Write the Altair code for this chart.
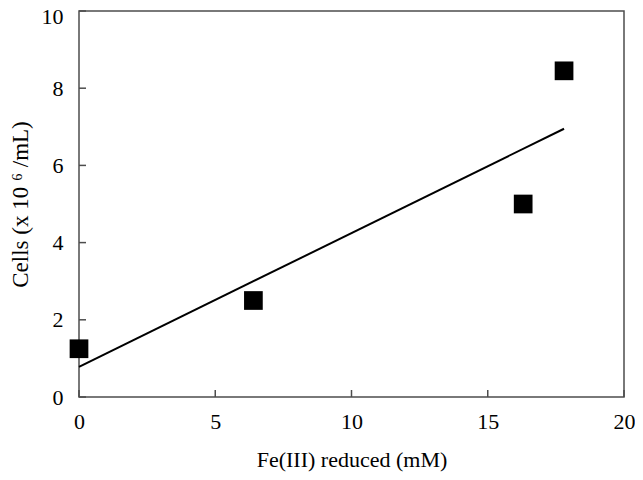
import altair as alt
import pandas as pd

# data
fe_reduced = [0.0, 6.4, 16.3, 17.8]
cells = [1.25, 2.5, 5.0, 8.45]
fit_x = [0.0, 17.8]
fit_y = [0.78, 6.95]
x_ticks = [0, 5, 10, 15, 20]
y_ticks = [0, 2, 4, 6, 8, 10]

W, H = 545, 386
FONT = "Liberation Serif"

pts = pd.DataFrame({"x": fe_reduced, "y": cells})
fit = pd.DataFrame({"x": fit_x, "y": fit_y})
xt = pd.DataFrame({"v": x_ticks})
yt = pd.DataFrame({"v": y_ticks})

xscale = alt.Scale(domain=[0, 20], nice=False, zero=False)
yscale = alt.Scale(domain=[0, 10], nice=False, zero=False)

xaxis = alt.Axis(
    values=x_ticks, title="Fe(III) reduced (mM)", grid=False, domain=False,
    tickSize=0, labelPadding=14, labelFontSize=22, labelFont=FONT, labelColor="black",
    titleFont=FONT, titleFontSize=22, titleFontWeight="normal", titleColor="black",
    titleY=69, titleBaseline="alphabetic", labelFlush=False,
)
yaxis = alt.Axis(
    values=y_ticks, title="Cells (x 10 \u2076 /mL)", grid=False, domain=False,
    tickSize=0, labelPadding=16, labelFontSize=22, labelFont=FONT, labelColor="black",
    labelOffset=alt.condition("datum.value == 10", alt.value(5), alt.value(0)),
    titleFont=FONT, titleFontSize=23, titleFontWeight="normal", titleColor="black",
    titleX=-59, titleBaseline="middle", labelFlush=False,
)

squares = alt.Chart(pts).mark_square(size=350, color="black", opacity=1, filled=True).encode(
    x=alt.X("x:Q", scale=xscale, axis=xaxis),
    y=alt.Y("y:Q", scale=yscale, axis=yaxis),
)
line = alt.Chart(fit).mark_line(color="black", strokeWidth=2).encode(
    x=alt.X("x:Q", scale=xscale),
    y=alt.Y("y:Q", scale=yscale),
)
xticks = alt.Chart(xt).mark_rule(color="#4d4d4d", strokeWidth=1.5).encode(
    x=alt.X("v:Q", scale=xscale),
    y=alt.value(H),
    y2=alt.value(H - 7),
)
yticks = alt.Chart(yt).mark_rule(color="#4d4d4d", strokeWidth=1.5).encode(
    y=alt.Y("v:Q", scale=yscale),
    x=alt.value(0),
    x2=alt.value(7),
)

chart = alt.layer(xticks, yticks, line, squares).properties(
    width=W, height=H,
    autosize=alt.AutoSizeParams(type="none"),
    padding={"left": 71, "top": 3, "right": 11, "bottom": 75},
).configure_view(
    stroke="#4d4d4d", strokeWidth=1.5
)

chart.save("out.html", embed_options={"renderer": "svg", "actions": False})
